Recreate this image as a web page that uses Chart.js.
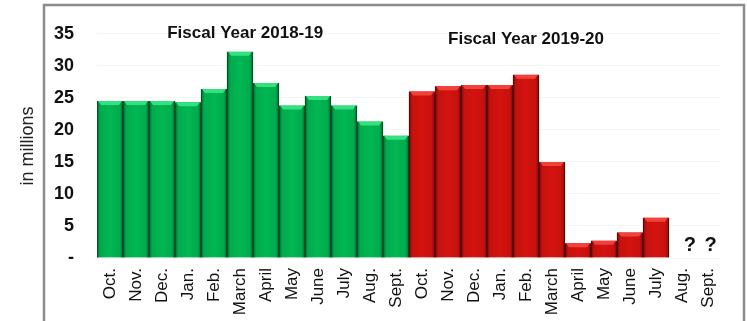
<!DOCTYPE html>
<html>
<head>
<meta charset="utf-8">
<script src="https://cdn.jsdelivr.net/npm/chart.js@4/dist/chart.umd.min.js"></script>
<style>
  html, body { margin: 0; padding: 0; background: #fff; }
  #wrap { width: 747px; height: 321px; }
</style>
</head>
<body>
<div id="wrap"><canvas id="monthChart" width="747" height="321"></canvas></div>
<script>
const months = ['Oct.', 'Nov.', 'Dec.', 'Jan.', 'Feb.', 'March', 'April', 'May', 'June', 'July', 'Aug.', 'Sept.'];
const fy1819 = [24.5, 24.5, 24.5, 24.3, 26.4, 32.2, 27.3, 23.8, 25.3, 23.8, 21.3, 19.1];
const fy1920 = [26.0, 26.8, 27.0, 27.0, 28.6, 15.0, 2.3, 2.7, 4.0, 6.3, null, null];
const yTicks = [0, 5, 10, 15, 20, 25, 30, 35];

// text written inside the plot: label, category position, value
const periodTitles = ['Fiscal Year 2018-19', 'Fiscal Year 2019-20'];
const periodTitleAt = [5.2, 16.0];
const periodTitleValue = [35.1, 34.2];
const unknownAt = [22.3, 23.1];
const unknownValue = [1.95, 1.95];

const labels = months.concat(months);
const blanks = months.map(() => null);

const frame = {
    id: 'frame',
    beforeDraw(chart) {
        const ctx = chart.ctx;
        ctx.save();
        ctx.fillStyle = '#fff';
        ctx.fillRect(0, 0, chart.width, chart.height);
        ctx.strokeStyle = '#8c8c8c';
        ctx.lineWidth = 2.5;
        ctx.strokeRect(44, 5, 700, 340);
        ctx.restore();
    }
};

// bevel look on bars: light top edge, darker sides
const bevel = {
    id: 'bevel',
    afterDatasetsDraw(chart) {
        const ctx = chart.ctx;
        const tops = ['#35e07f', '#f2403a'];
        chart.data.datasets.forEach((ds, di) => {
            chart.getDatasetMeta(di).data.forEach((bar, i) => {
                if (ds.data[i] == null) return;
                const left = bar.x - bar.width / 2;
                const right = bar.x + bar.width / 2;
                ctx.save();
                const g = ctx.createLinearGradient(left, 0, right, 0);
                g.addColorStop(0, 'rgba(0,0,0,0.45)');
                g.addColorStop(0.12, 'rgba(0,0,0,0.08)');
                g.addColorStop(0.5, 'rgba(0,0,0,0)');
                g.addColorStop(0.88, 'rgba(0,0,0,0.08)');
                g.addColorStop(1, 'rgba(0,0,0,0.45)');
                ctx.fillStyle = g;
                ctx.fillRect(left, bar.y, bar.width, bar.base - bar.y);
                ctx.fillStyle = tops[di];
                ctx.beginPath();
                ctx.moveTo(left + 1, bar.y);
                ctx.lineTo(right - 1, bar.y);
                ctx.lineTo(right - 4, bar.y + 4);
                ctx.lineTo(left + 4, bar.y + 4);
                ctx.closePath();
                ctx.fill();
                ctx.restore();
            });
        });
    }
};

const notes = {
    id: 'notes',
    afterDraw(chart) {
        const ctx = chart.ctx;
        const x = chart.scales.x;
        const y = chart.scales.y;
        ctx.save();
        ctx.fillStyle = '#111';
        ctx.textAlign = 'center';
        ctx.textBaseline = 'middle';
        ctx.font = 'bold 17px "Liberation Sans", Arial, sans-serif';
        periodTitles.forEach((t, i) => {
            ctx.fillText(t, x.getPixelForValue(periodTitleAt[i]), y.getPixelForValue(periodTitleValue[i]));
        });
        ctx.font = 'bold 20px "Liberation Sans", Arial, sans-serif';
        unknownAt.forEach((p, i) => {
            ctx.fillText('?', x.getPixelForValue(p), y.getPixelForValue(unknownValue[i]));
        });
        ctx.restore();
    }
};

new Chart(document.getElementById('monthChart'), {
    type: 'bar',
    data: {
        labels: labels,
        datasets: [{
            label: 'Fiscal Year 2018-19',
            data: fy1819.concat(blanks),
            backgroundColor: '#00b853',
            borderColor: '#0a6e33',
            borderWidth: { left: 1, right: 1, top: 0, bottom: 0 },
            borderSkipped: false
        }, {
            label: 'Fiscal Year 2019-20',
            data: blanks.concat(fy1920),
            backgroundColor: '#d5130f',
            borderColor: '#7e0b08',
            borderWidth: { left: 1, right: 1, top: 0, bottom: 0 },
            borderSkipped: false
        }]
    },
    options: {
        responsive: false,
        animation: false,
        grouped: false,
        barPercentage: 1,
        categoryPercentage: 1,
        layout: { padding: { top: 25, right: 26, left: 0, bottom: 0 } },
        plugins: {
            legend: { display: false },
            tooltip: { enabled: false }
        },
        scales: {
            x: {
                grid: { display: false, drawTicks: false },
                border: { display: false },
                ticks: {
                    minRotation: 90,
                    maxRotation: 90,
                    autoSkip: false,
                    padding: 10,
                    color: '#111',
                    font: { family: '"Liberation Sans", Arial, sans-serif', size: 17 }
                },
                afterFit(scale) { scale.height = 63; }
            },
            y: {
                min: 0,
                max: 35,
                afterBuildTicks(scale) { scale.ticks = yTicks.map(v => ({ value: v })); },
                grid: { color: '#f5f5f5', drawTicks: false },
                border: { display: false },
                ticks: {
                    padding: 23,
                    color: '#111',
                    font: { family: '"Liberation Sans", Arial, sans-serif', size: 18, weight: 'bold' },
                    callback: v => v === 0 ? '-' : v
                },
                title: {
                    display: true,
                    text: 'in millions',
                    color: '#222',
                    padding: { top: 17, bottom: 0 },
                    font: { family: '"Liberation Sans", Arial, sans-serif', size: 18 }
                },
                afterFit(scale) { scale.width = 97; }
            }
        }
    },
    plugins: [frame, bevel, notes]
});
</script>
</body>
</html>
